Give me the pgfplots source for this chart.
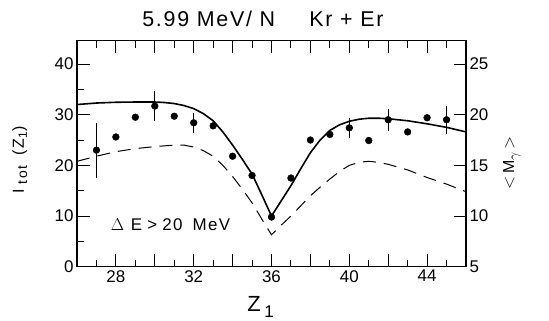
\documentclass[border=0pt]{standalone}
\usepackage{pgfplots}
\pgfplotsset{compat=1.18}
\usepackage{fontspec}
\setmainfont{Liberation Sans}
\newfontfamily\wide[LetterSpace=8]{Liberation Sans}
\newfontfamily\wider[LetterSpace=14]{Liberation Sans}

\pgfplotstableread{
x y
26 32.0
27 32.3
28 32.45
29 32.5
30 32.5
30.5 32.4
31 32.2
31.5 31.8
32 31.2
32.5 30.2
33 28.8
33.5 26.6
34 24.0
34.5 21.2
35 18.3
35.5 14.2
36 10.0
36.5 13.0
37 16.0
37.5 19.3
38 22.5
38.5 25.0
39 26.9
39.5 28.0
40 28.7
40.5 29.1
41 29.3
41.5 29.3
42 29.2
43 28.8
44 28.2
45 27.5
46 26.6
}\solid

\pgfplotstableread{
x y
26 20.8
27 21.8
28 22.7
29 23.3
30 23.7
31 24.0
31.5 24.0
32 23.6
32.5 22.9
33 21.8
33.5 20.0
34 17.8
34.5 15.3
35 12.6
35.5 9.4
36 6.3
36.5 8.2
37 10.0
37.5 12.0
38 14.0
38.5 15.7
39 17.3
39.5 18.8
40 20.0
40.5 20.6
41 20.8
41.5 20.6
42 20.2
43 19.1
44 17.6
45 16.3
46 14.8
}\dashed

\pgfplotstableread{
x y
28 25.6
29 29.5
31 29.7
33 27.8
34 21.8
35 18.0
36 9.8
37 17.5
38 25.0
39 26.1
41 24.9
43 26.6
44 29.4
}\pts

\pgfplotstableread{
x y e
27 23.0 5.0
30 31.7 2.5
32 28.4 1.5
40 27.4 1.5
42 29.0 1.7
45 29.0 2.3
}\errpts

\begin{document}
\begin{tikzpicture}
\begin{axis}[
  scale only axis, width=389bp, height=226bp,
  xmin=26, xmax=46, ymin=0, ymax=44.6,
  axis line style={line width=1.2pt},
  tick align=inside,
  xtick={28,30,...,44}, xticklabels={28,,32,,36,,40,,44},
  minor xtick={27,29,...,45},
  ytick={0,10,...,40}, minor ytick={5,15,...,35},
  ytick pos=left, xtick pos=both,
  major tick length=12.5bp, minor tick length=7bp,
  tick style={line width=1pt, black},
  ticklabel style={font=\fontsize{17}{17}\selectfont},
  /pgf/number format/assume math mode=true,
  clip=false,
  xlabel={\fontsize{22}{22}\selectfont Z\,\raisebox{-0.45ex}{\fontsize{17}{17}\selectfont 1}},
  every axis x label/.style={at={(axis description cs:0.472,-0.178)}, anchor=center},
  ylabel={\fontsize{16}{16}\selectfont\wider I\hspace{0.3em}\raisebox{-0.4ex}{\fontsize{14}{14}\selectfont\wider tot}\hspace{0.6em}(Z\raisebox{-0.35ex}{\fontsize{12}{12}\selectfont 1})},
  every axis y label/.style={at={(axis description cs:-0.147,0.472)}, rotate=90, anchor=center},
]
\addplot[black, line width=1.6pt] table[x=x,y=y] {\solid};
\addplot[black, line width=1.0pt, dash pattern=on 13bp off 8bp] table[x=x,y=y] {\dashed};
\addplot[only marks, mark=*, mark size=3.4bp, black] table[x=x,y=y] {\pts};
\addplot[only marks, mark=*, mark size=3.4bp, black,
  error bars/.cd, y dir=both, y explicit,
  error bar style={line width=0.8pt},
  error mark options={mark size=2.2bp, line width=0.8pt}]
  table[x=x,y=y,y error=e] {\errpts};
\node[anchor=base] at (axis description cs:0.478,1.061)
  {\fontsize{21.5}{21.5}\selectfont\wide 5.99 MeV/ N\hspace{1.6em}Kr + Er};
\node[anchor=base west, inner sep=0pt] at (axis cs:27.73,7.2)
  {\fontsize{17}{17}\selectfont\wide $\Delta$\hspace{0.4em}E\hspace{0.3em}>\hspace{0.3em}20\hspace{0.6em}MeV};
\coordinate (bl) at (axis description cs:0,0);
\coordinate (tr) at (axis description cs:1,1);
\end{axis}
\begin{axis}[
  scale only axis, width=389bp, height=226bp,
  xmin=26, xmax=46, ymin=5, ymax=27.3,
  axis y line*=right, axis x line=none,
  tick align=inside,
  ytick={5,10,...,25},
  major tick length=12.5bp,
  tick style={line width=1pt, black},
  axis line style={line width=1.2pt},
  ticklabel style={font=\fontsize{17}{17}\selectfont},
  /pgf/number format/assume math mode=true,
  ylabel={\fontsize{16}{16}\selectfont $<$\,M\raisebox{-0.45ex}{\fontsize{14}{14}\selectfont$\gamma$}\,$>$},
  every axis y label/.style={at={(axis description cs:1.118,0.46)}, rotate=90, anchor=center},
]
\addplot[draw=none] coordinates {(26,5)};
\end{axis}
\pgfresetboundingbox
\path[use as bounding box] ([shift={(-77bp,-54.3bp)}]bl) rectangle ([shift={(83bp,40.7bp)}]tr);
\end{tikzpicture}
\end{document}
